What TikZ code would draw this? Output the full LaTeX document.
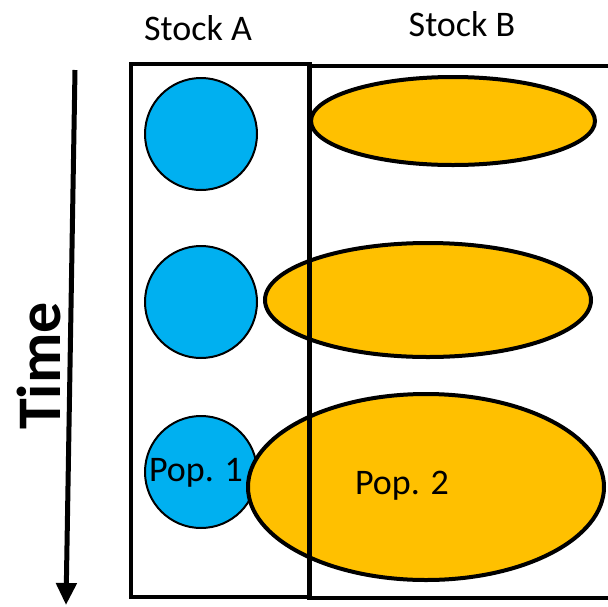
\documentclass[tikz,border=0pt]{standalone}
\usepackage{fontspec}
\setmainfont{Carlito}
\usetikzlibrary{shapes.geometric,arrows.meta}
\definecolor{popblue}{HTML}{00B0F0}
\definecolor{poporange}{HTML}{FFC000}
\tikzset{
  bluepop/.style={circle,draw=black,line width=2pt,fill=popblue,inner sep=0pt,minimum size=112pt},
  orangepop/.style={ellipse,draw=black,line width=4pt,fill=poporange,inner sep=0pt},
  stockbox/.style={draw=black,line width=3.5pt},
  lbl/.style={font=\fontsize{36}{42}\selectfont,inner sep=0pt}
}
\begin{document}
\begin{tikzpicture}[x=1pt,y=-1pt]
\useasboundingbox (0,0) rectangle (608,606);
\clip (0,0) rectangle (608,606);
% circles (Stock A)
\node[bluepop] (a1) at (201,134) {};
\node[bluepop] (a2) at (201,302) {};
\node[bluepop] (a3) at (201,472) {};
% ellipses (Stock B)
\node[orangepop,minimum width=284pt,minimum height=88pt] (b1) at (453,121) {};
\node[orangepop,minimum width=326pt,minimum height=114pt] (b2) at (428,300) {};
\node[orangepop,minimum width=356pt,minimum height=186pt] (b3) at (426,487) {};
% labels inside
\node[lbl] (p1) at (196,473) {Pop. 1};
\node[lbl] (p2) at (402,486) {Pop. 2};
% boxes
\node[stockbox,inner sep=0pt,minimum width=179pt,minimum height=533pt] (boxA) at (220.5,330.5) {};
\draw[line width=4.5pt] (309,66) rectangle (620,598);
% headings
\node[lbl] (sa) at (198,28) {Stock A};
\node[lbl] (sb) at (462,24) {Stock B};
% time arrow
\coordinate (tstart) at (75,70);
\coordinate (tend) at (66,605);
\draw[line width=5pt,-{Triangle[length=22pt,width=20pt]}] (tstart) -- (tend);
\node[lbl,rotate=90,font=\fontsize{62}{72}\selectfont\bfseries] (time) at (39,366) {Time};
\end{tikzpicture}
\end{document}
